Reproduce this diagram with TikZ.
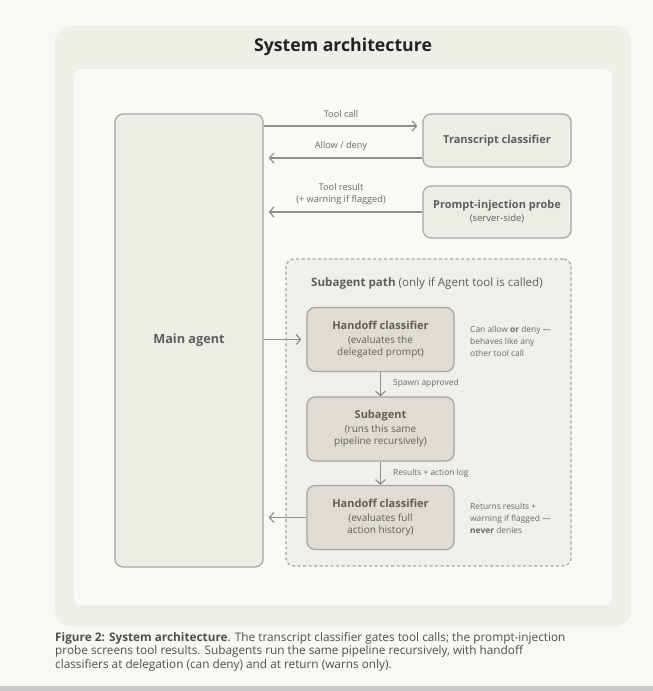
\documentclass[tikz,border=0pt]{standalone}
\usepackage{fontspec}
\setmainfont{Open Sans}
\usetikzlibrary{arrows.meta}
\definecolor{bgc}{HTML}{F9F8F3}
\definecolor{barc}{HTML}{C9C9C7}
\definecolor{outerc}{HTML}{EFEEE7}
\definecolor{innerc}{HTML}{FAF9F5}
\definecolor{boxfill}{HTML}{EEEDE5}
\definecolor{subfill}{HTML}{DFDDD3}
\definecolor{boxline}{HTML}{A6A59E}
\definecolor{dashfill}{HTML}{F0EFE9}
\definecolor{boxtext}{HTML}{5F5E59}
\definecolor{labtext}{HTML}{6A6964}
\definecolor{arrowc}{HTML}{8F8E88}
\definecolor{titlec}{HTML}{222222}
\definecolor{capc}{HTML}{4F4E4B}
\newcommand{\bt}{\fontsize{11}{14}\selectfont\bfseries}
\newcommand{\st}{\fontsize{10}{13}\selectfont\mdseries}
\begin{document}
\begin{tikzpicture}[x=1pt,y=-1pt,
  box/.style={draw=boxline, fill=boxfill, rounded corners=8pt, line width=1.2pt,
    text=boxtext, align=center, inner sep=0pt},
  subbox/.style={box, fill=subfill, minimum width=147pt, minimum height=64pt},
  arr/.style={draw=arrowc, line width=1.2pt, -{Straight Barb[length=4.5pt,width=10pt]}},
  lab/.style={text=labtext, font=\fontsize{9.2}{11.5}\selectfont, align=center, inner sep=0pt},
  note/.style={text=labtext, font=\fontsize{8.4}{12}\selectfont, align=left, inner sep=0pt, anchor=west},
]
\useasboundingbox (0,0) rectangle (653,691);
\fill[bgc] (0,0) rectangle (653,691);
\fill[barc] (0,686) rectangle (653,691);
\fill[outerc, rounded corners=16pt] (55,26) rectangle (631,626);
\fill[innerc, rounded corners=8pt] (74,69) rectangle (612,605);

\node[text=titlec, font=\fontsize{17.7}{20}\selectfont\bfseries, inner sep=0pt] (title) at (343,47) {System architecture};

% main agent
\node[box, minimum width=148pt, minimum height=453pt, font=\fontsize{12.7}{15}\selectfont\bfseries] (main) at (189,340.5) {Main agent};

% right boxes
\node[box, minimum width=148pt, minimum height=53pt, font=\bt] (tc) at (497,140.5) {Transcript classifier};
\node[box, minimum width=148pt, minimum height=52pt] (pp) at (497,212)
  {\bt Prompt-injection probe\\[1pt]\fontsize{9.5}{12}\selectfont\mdseries (server-side)};

% subagent path
\node[draw=boxline, fill=dashfill, dash pattern=on 3pt off 2.5pt, line width=1.2pt,
  rounded corners=8pt, minimum width=285pt, minimum height=307pt, inner sep=0pt] (sp) at (428.5,412.5) {};
\node[text=boxtext, font=\fontsize{11.6}{14}\selectfont, anchor=west, inner sep=0pt] (sptitle) at (311,283)
  {\textbf{Subagent path} (only if Agent tool is called)};

\node[subbox] (h1) at (380.5,339.5)
  {\bt Handoff classifier\\[2pt]\st (evaluates the\\\st delegated prompt)};
\node[subbox] (sa) at (380.5,429)
  {\bt Subagent\\[2pt]\st (runs this same\\\st pipeline recursively)};
\node[subbox] (h2) at (380.5,517.5)
  {\bt Handoff classifier\\[2pt]\st (evaluates full\\\st action history)};

\node[note] (n1) at (470,341.5) {Can allow \textbf{or} deny —\\behaves like any\\other tool call};
\node[note] (n2) at (470,518) {Returns results +\\warning if flagged —\\\textbf{never} denies};

% arrows
\draw[arr] (main.east |- 0,126) -- ([xshift=-5pt]tc.west |- 0,126);
\node[lab] (l1) at (341,114) {Tool call};
\draw[arr] (tc.west |- 0,158) -- ([xshift=5pt]main.east |- 0,158);
\node[lab] (l2) at (341,146) {Allow / deny};
\draw[arr] (pp.west |- 0,212) -- ([xshift=5pt]main.east |- 0,212);
\node[lab] (l3) at (341,194) {Tool result\\(+ warning if flagged)};
\draw[arr] (main.east |- h1.west) -- ([xshift=-5pt]h1.west);
\draw[arr] (h2.west) -- ([xshift=5pt]main.east |- h2.west);
\draw[arr] (h1.south) -- (sa.north);
\node[lab, anchor=west, font=\fontsize{8.4}{11}\selectfont] (l4) at (393,383.5) {Spawn approved};
\draw[arr] (sa.south) -- (h2.north);
\node[lab, anchor=west, font=\fontsize{8.4}{11}\selectfont] (l5) at (393,473) {Results + action log};

% caption
\node[text=capc, font=\fontsize{11.8}{13.6}\selectfont, anchor=north west, align=left, inner sep=0pt] (cap) at (55,632)
  {\textbf{Figure 2: System architecture}. The transcript classifier gates tool calls; the prompt-injection\\probe screens tool results. Subagents run the same pipeline recursively, with handoff\\classifiers at delegation (can deny) and at return (warns only).};
\end{tikzpicture}
\end{document}
